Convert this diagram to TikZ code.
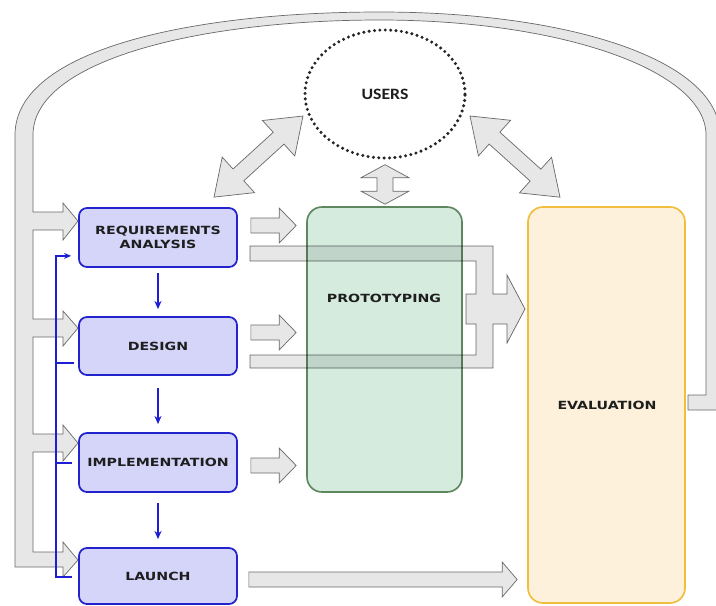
\documentclass[tikz,border=0pt]{standalone}
\usepackage{fontspec}
\usetikzlibrary{calc,arrows.meta,shapes.geometric}
\newfontfamily\labelfont{DejaVu Sans}[FakeStretch=1.26]
\newfontfamily\usersfont{Carlito}[FakeStretch=1.12]

\definecolor{phasefill}{RGB}{213,213,250}
\definecolor{phaseedge}{RGB}{35,35,205}
\definecolor{protofill}{RGB}{213,235,222}
\definecolor{protoedge}{RGB}{95,135,95}
\definecolor{evalfill}{RGB}{253,241,220}
\definecolor{evaledge}{RGB}{240,190,60}
\definecolor{bandfill}{RGB}{231,231,231}
\definecolor{bandedge}{RGB}{105,105,105}
\definecolor{inktext}{RGB}{30,30,30}
\definecolor{flowblue}{RGB}{30,30,210}

% one drawing unit = one pixel of the layout grid
\def\pxu{0.03cm}

% double block arrow between two points: ends, shaft half width, head half width, head length, name prefix
\newcommand{\dblarrow}[6]{%
  \coordinate (#6a) at ($(#1)!#5*\pxu!(#2)$);
  \coordinate (#6b) at ($(#2)!#5*\pxu!(#1)$);
  \draw[blockarrow] (#1) -- ($(#6a)!#4*\pxu!90:(#2)$) -- ($(#6a)!#3*\pxu!90:(#2)$)
    -- ($(#6b)!#3*\pxu!-90:(#1)$) -- ($(#6b)!#4*\pxu!-90:(#1)$) -- (#2)
    -- ($(#6b)!#4*\pxu!90:(#1)$) -- ($(#6b)!#3*\pxu!90:(#1)$)
    -- ($(#6a)!#3*\pxu!-90:(#2)$) -- ($(#6a)!#4*\pxu!-90:(#2)$) -- cycle;}

% single block arrow from #1 to #2
\newcommand{\sglarrow}[6]{%
  \coordinate (#6a) at ($(#2)!#5*\pxu!(#1)$);
  \draw[blockarrow] ($(#1)!#3*\pxu!90:(#2)$) -- ($(#6a)!#3*\pxu!-90:(#1)$)
    -- ($(#6a)!#4*\pxu!-90:(#1)$) -- (#2) -- ($(#6a)!#4*\pxu!90:(#1)$)
    -- ($(#6a)!#3*\pxu!90:(#1)$) -- ($(#1)!#3*\pxu!-90:(#2)$) -- cycle;}

\begin{document}
\begin{tikzpicture}[x=0.03cm,y=-0.03cm,
  phase/.style={draw=phaseedge, line width=1.5pt, fill=phasefill,
    rounded corners=0.24cm, minimum width=158*\pxu, inner sep=0pt,
    align=center, text=inktext,
    font=\labelfont\bfseries\fontsize{9.6}{12}\selectfont},
  stage/.style={line width=1.4pt, rounded corners=0.45cm, inner sep=0pt},
  stagetext/.style={text=inktext, font=\labelfont\bfseries\fontsize{9.6}{12}\selectfont},
  blockarrow/.style={draw=bandedge, line width=0.6pt, fill=bandfill, line join=miter},
  flow/.style={draw=flowblue, line width=1.5pt, -{Stealth[length=7pt,width=6pt]}},
  feedback/.style={draw=flowblue, line width=1.5pt}]

\useasboundingbox (0,0) rectangle (716,605);

% life-cycle phases
\node[phase, minimum height=59*\pxu] (ra) at (158,237.5) {REQUIREMENTS\\ANALYSIS};
\node[phase, minimum height=58*\pxu] (design) at (158,346) {DESIGN};
\node[phase, minimum height=59*\pxu] (impl) at (158,462.5) {IMPLEMENTATION};
\node[phase, minimum height=56*\pxu] (launch) at (158,576) {LAUNCH};

% prototyping and evaluation columns
\node[stage, draw=protoedge, fill=protofill, minimum width=155*\pxu,
      minimum height=285*\pxu] (proto) at (384.5,349.5) {};
\node[stagetext] (protolabel) at (384,298) {PROTOTYPING};
\node[stage, draw=evaledge, fill=evalfill, minimum width=157*\pxu,
      minimum height=396*\pxu] (eval) at (606.5,405) {};
\node[stagetext] (evallabel) at (607,405) {EVALUATION};

% users
\node[ellipse, draw=black!85, line width=2.9pt, dash pattern=on 0pt off 4.6pt,
      line cap=round, minimum width=160*\pxu, minimum height=128*\pxu,
      inner sep=0pt, text=inktext, font=\usersfont\bfseries\fontsize{13.5}{15}\selectfont]
      (users) at (385,94) {USERS};

% iteration loop from evaluation back to every phase
\draw[blockarrow] (688,395) -- (706,395) -- (706,135)
  .. controls (706,70) and (560,20) .. (380,20)
  .. controls (200,20) and (33,60) .. (33,135)
  -- (33,212) -- (63,212) -- (63,203) -- (78,221) -- (63,240) -- (63,230) -- (33,230)
  -- (33,319) -- (63,319) -- (63,311) -- (78,328) -- (63,346) -- (63,337) -- (33,337)
  -- (33,434) -- (63,434) -- (63,425) -- (78,443) -- (63,461) -- (63,452) -- (33,452)
  -- (33,552) -- (63,552) -- (63,542) -- (78,560) -- (63,577) -- (63,567) -- (15,567)
  -- (15,135) .. controls (15,50) and (190,12) .. (380,12)
  .. controls (570,12) and (720,60) .. (720,135) -- (720,410) -- (688,410) -- cycle;

% users exchange
\coordinate (ul) at (303,116);
\coordinate (ur) at (470,116);
\coordinate (rat) at ($(ra.north)+(56,-10)$);
\coordinate (evt) at ($(eval.north)+(-46.5,-9)$);
\dblarrow{ul}{rat}{8}{24}{33}{dl}
\dblarrow{ur}{evt}{8}{24}{33}{dr}
\coordinate (us) at ($(users.south)+(0,5)$);
\coordinate (pn) at ($(proto.north)+(0.5,-2)$);
\dblarrow{us}{pn}{8}{24}{13}{dv}

% phases into prototyping
\coordinate (s1) at ($(ra.east)+(13,-12)$);
\coordinate (t1) at ($(s1 -| proto.west)+(-10,0)$);
\sglarrow{s1}{t1}{7.5}{17.5}{17}{p1}
\coordinate (s2) at ($(design.east)+(13,-13.5)$);
\coordinate (t2) at ($(s2 -| proto.west)+(-10,0)$);
\sglarrow{s2}{t2}{7.5}{17.5}{17}{p2}
\coordinate (s3) at ($(impl.east)+(13,3)$);
\coordinate (t3) at ($(s3 -| proto.west)+(-10,0)$);
\sglarrow{s3}{t3}{7.5}{17.5}{17}{p3}
\coordinate (s4) at ($(launch.east)+(11,3.5)$);
\coordinate (t4) at ($(s4 -| eval.west)+(-10,0)$);
\sglarrow{s4}{t4}{7.5}{17.5}{15}{p4}

% analysis and design feed evaluation, passing behind the prototype
\begin{scope}[blend mode=multiply]
\draw[blockarrow] (250,246) -- (493,246) -- (493,294) -- (507,294) -- (507,275)
  -- (525,309) -- (507,343) -- (507,324) -- (493,324) -- (493,368) -- (250,368)
  -- (250,355) -- (476,355) -- (476,324) -- (466,324) -- (466,294) -- (476,294)
  -- (476,261) -- (250,261) -- cycle;
\end{scope}

% sequence of phases
\draw[flow] ($(ra.south)+(0,5)$) -- ($(design.north)+(0,-7)$);
\draw[flow] ($(design.south)+(0,12)$) -- ($(impl.north)+(0,-8)$);
\draw[flow] ($(impl.south)+(0,10)$) -- ($(launch.north)+(0,-8)$);

% feedback to requirements analysis
\draw[feedback, -{Stealth[length=6pt,width=5pt]}] ($(launch.west)+(-6,1)$) -- ++(-16,0)
  |- ($(ra.south west)+(-7,-12)$);
\draw[feedback] ($(design.west)+(-4,17)$) -- ++(-18,0);
\draw[feedback] ($(impl.west)+(-6,0.5)$) -- ++(-16,0);

\end{tikzpicture}
\end{document}
